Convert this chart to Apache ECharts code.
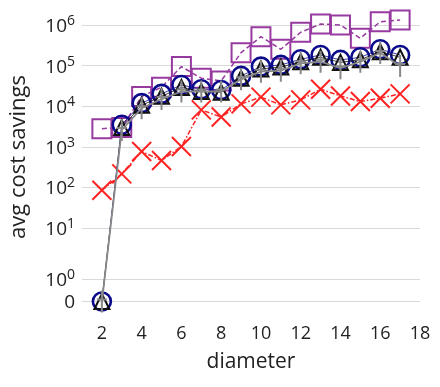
<!DOCTYPE html>
<html>
<head>
<meta charset="utf-8">
<script src="https://cdn.jsdelivr.net/npm/echarts@6/dist/echarts.min.js"></script>
<style>
  html, body { margin: 0; padding: 0; background: #fff; }
  #chart { width: 440px; height: 387px; }
</style>
</head>
<body>
<div id="chart"></div>
<script>
// diameter values on the x axis
var diameters = [2, 3, 4, 5, 6, 7, 8, 9, 10, 11, 12, 13, 14, 15, 16, 17];
// avg cost savings, one array per series
var redX = [85, 215, 765, 460, 1015, 8100, 5400, 11400, 16700, 10800, 14300, 26200, 17900, 13000, 15700, 20100];
var purpleSq = [2800, 3000, 17300, 29400, 94500, 48900, 42000, 208000, 515000, 252000, 661000, 1060000, 1000000, 471000, 1200000, 1330000];
var navyCirc = [0, 3500, 11900, 20100, 33400, 26200, 25000, 55700, 94500, 104000, 143000, 183000, 138000, 160000, 252000, 183000];
var blackTri = [0, 3000, 10500, 17500, 29000, 23000, 22000, 49000, 83000, 92000, 125000, 160000, 120000, 140000, 220000, 160000];
var grayMean = [0, 2600, 8900, 15000, 23000, 23000, 23000, 46000, 71000, 75000, 114000, 125000, 86000, 125000, 205000, 98000];
var xTicks = [2, 4, 6, 8, 10, 12, 14, 16, 18];
var yTicks = [0, 1, 10, 100, 1000, 10000, 100000, 1000000];

// symlog-like axis: log10 above 10, stretched below
var U1 = -0.254, U0 = -0.812;
function tr(v) {
  if (v <= 0) return U0;
  if (v < 1) return U0 + v * (U1 - U0);
  if (v < 10) return U1 + Math.log10(v) * (1 - U1);
  return Math.log10(v);
}
function pts(arr) {
  return arr.map(function (v, i) { return [diameters[i], tr(v)]; });
}

var yPos = yTicks.map(tr);
var labelOf = {};
yTicks.forEach(function (v, i) {
  labelOf[yPos[i].toFixed(3)] = v === 0 ? '{b|0}' : '{b|10}{s|' + Math.round(Math.log10(v)) + '}';
});

var font = 'Open Sans';
var chart = echarts.init(document.getElementById('chart'));
chart.setOption({
  animation: false,
  grid: { left: 81, right: 20, top: 4.7, bottom: 77.8 },
  xAxis: {
    type: 'value', min: 1, max: 18,
    name: 'diameter', nameLocation: 'middle', nameGap: 42,
    nameTextStyle: { fontFamily: font, fontSize: 21, color: '#222' },
    axisLine: { show: false }, axisTick: { show: false }, splitLine: { show: false },
    axisLabel: { customValues: xTicks, fontFamily: font, fontSize: 18, color: '#222', margin: 16 }
  },
  yAxis: {
    type: 'value', min: -1.0, max: 6.5,
    name: 'avg cost savings', nameLocation: 'middle', nameGap: 52,
    nameTextStyle: { fontFamily: font, fontSize: 22, color: '#222' },
    axisLine: { show: false },
    axisTick: { show: false, customValues: yPos },
    splitLine: { show: true, lineStyle: { color: '#d9d9d9', width: 1.2 } },
    axisLabel: {
      customValues: yPos, margin: 7,
      formatter: function (v) { return labelOf[v.toFixed(3)] || ''; },
      rich: {
        b: { fontFamily: font, fontSize: 19, color: '#222', verticalAlign: 'bottom', lineHeight: 22 },
        s: { fontFamily: font, fontSize: 14, color: '#222', verticalAlign: 'top', lineHeight: 10 }
      }
    }
  },
  series: [
    {
      type: 'line', data: pts(purpleSq), z: 2,
      symbol: 'rect', symbolSize: 19,
      itemStyle: { color: 'rgba(0,0,0,0)', borderColor: '#973aa0', borderWidth: 2 },
      lineStyle: { color: '#973aa0', width: 1.5, type: [5, 3] }
    },
    {
      type: 'line', data: pts(redX), z: 3,
      symbol: 'path://M0,0L10,10M10,0L0,10', symbolSize: 19,
      itemStyle: { color: 'rgba(0,0,0,0)', borderColor: '#ff2222', borderWidth: 2 },
      lineStyle: { color: '#ff2222', width: 1.5, type: [5, 2, 1.5, 2] }
    },
    {
      type: 'line', data: pts(navyCirc), z: 4,
      symbol: 'circle', symbolSize: 18,
      itemStyle: { color: 'rgba(0,0,0,0)', borderColor: '#0a0a8c', borderWidth: 2.6 },
      lineStyle: { color: '#0a0a8c', width: 0.8 }
    },
    {
      type: 'line', data: pts(blackTri), z: 5,
      symbol: 'triangle', symbolSize: 15,
      itemStyle: { color: 'rgba(0,0,0,0)', borderColor: '#111', borderWidth: 2 },
      lineStyle: { color: '#111', width: 0.8 }
    },
    {
      type: 'line', data: pts(grayMean), z: 6,
      symbol: 'path://M4,0h2v8h4v2h-4v12h-2v-12h-4v-2h4z', symbolSize: [10, 22], symbolKeepAspect: false,
      itemStyle: { color: '#888' },
      lineStyle: { color: '#888', width: 1.8 }
    }
  ]
});
</script>
</body>
</html>
